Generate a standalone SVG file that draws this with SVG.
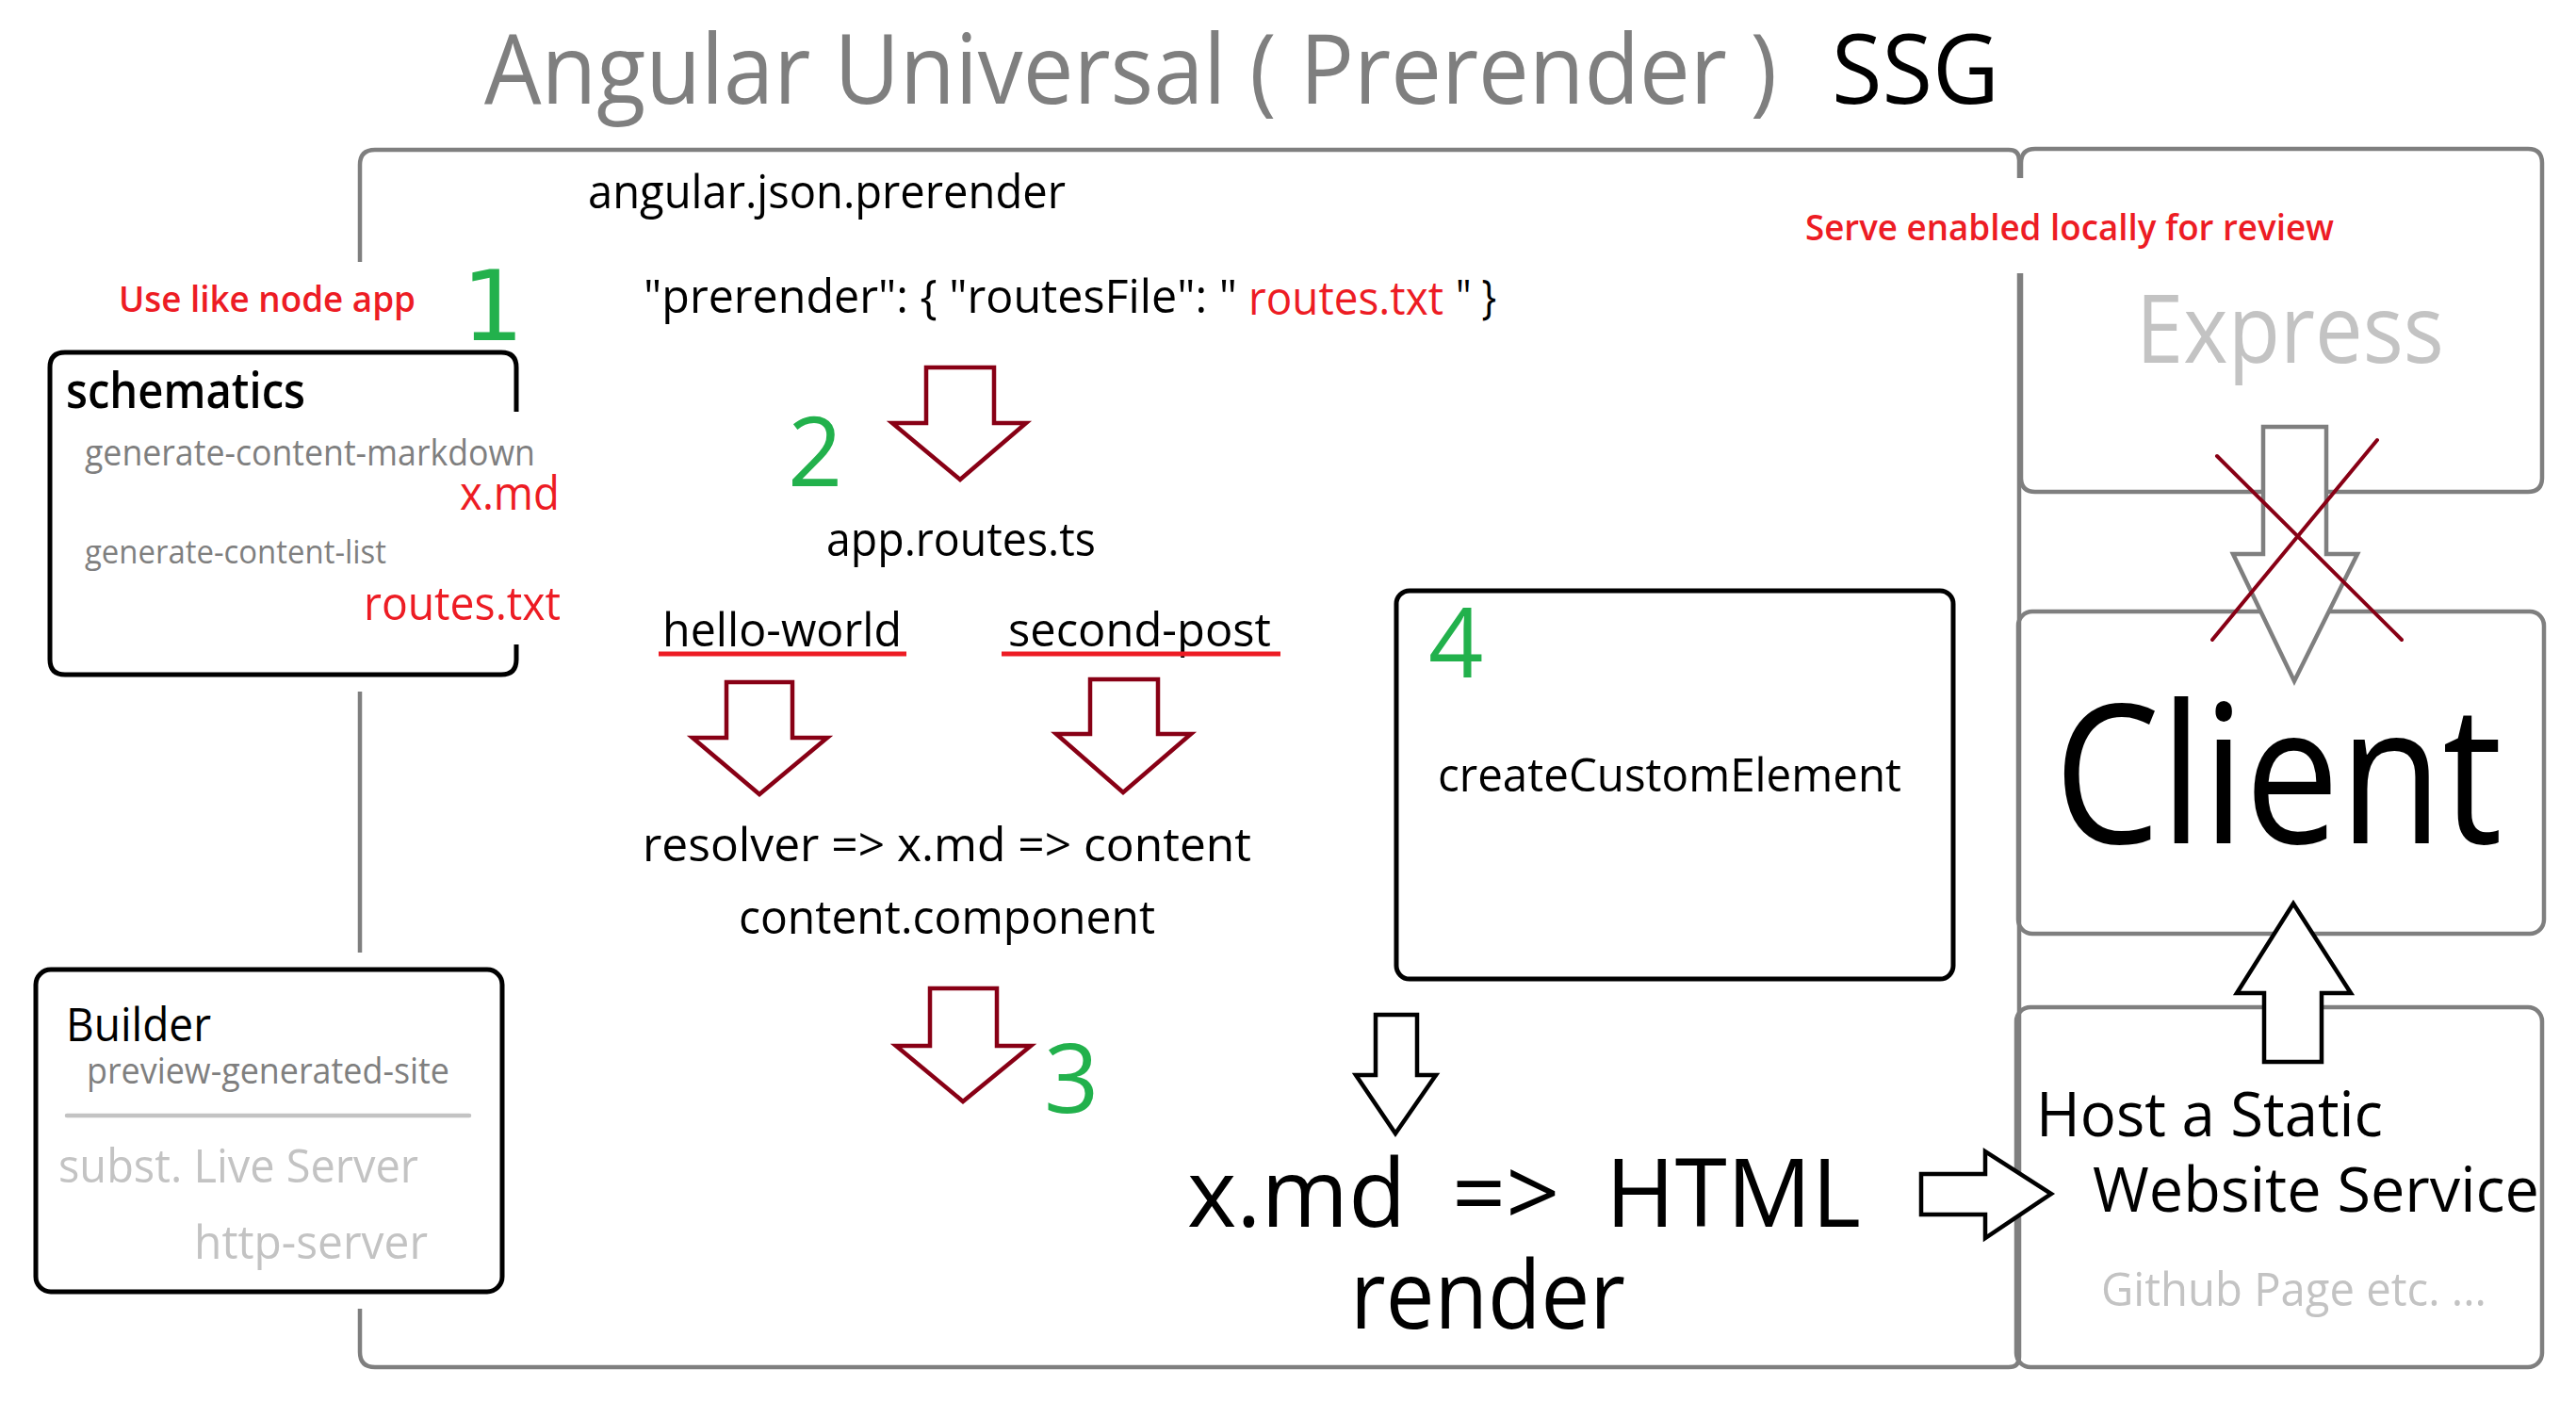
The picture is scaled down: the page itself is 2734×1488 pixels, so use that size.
<svg xmlns="http://www.w3.org/2000/svg" width="2734" height="1488" viewBox="0 0 2734 1488">
<style>
text{font-family:"Open Sans","Noto Sans","Liberation Sans",sans-serif;}
.k{fill:#000;}
.g{fill:#7f7f7f;}
.lg{fill:#c3c3c3;}
.r{fill:#ed1c24;}
.gr{fill:#22b14c;}
.one{font-family:"DejaVu Sans","Open Sans",sans-serif;}
.sb{font-weight:600;}
.frame{fill:none;stroke:#7f7f7f;stroke-width:4.5;}
.bbox{fill:none;stroke:#000;stroke-width:5;}
.rarrow{fill:#fff;stroke:#880015;stroke-width:4.5;stroke-linejoin:miter;}
.karrow{fill:#fff;stroke:#000;stroke-width:4.5;stroke-linejoin:miter;}
.garrow{fill:#fff;stroke:#7f7f7f;stroke-width:4.5;stroke-linejoin:miter;}
.uline{stroke:#ed1c24;stroke-width:5;}
.xline{stroke:#880015;stroke-width:4;stroke-linecap:round;}
</style>
<rect width="2734" height="1488" fill="#fff"/>

<g id="title">
<text class="g" x="514" y="110" font-size="102" textLength="1372" lengthAdjust="spacingAndGlyphs">Angular Universal ( Prerender )</text>
<text class="k" x="1944" y="110" font-size="102" textLength="178" lengthAdjust="spacingAndGlyphs">SSG</text>
</g>

<g id="main-frame">
<path class="frame" d="M382 278 L382 175 Q382 159 398 159 L2132 159 Q2143 159 2143 170 L2143 189 M2143 290 L2143 1440 Q2143 1451 2132 1451 L398 1451 Q382 1451 382 1435 L382 1389 M382 734 L382 1011"/>
</g>

<g id="schematics">
<path class="bbox" d="M548 437 L548 390 Q548 374 532 374 L69 374 Q53 374 53 390 L53 700 Q53 716 69 716 L532 716 Q548 716 548 700 L548 684" stroke-width="5.5"/>
<text class="k sb" x="70" y="433" font-size="53" textLength="254" lengthAdjust="spacingAndGlyphs">schematics</text>
<text class="g" x="90" y="494" font-size="38" textLength="478" lengthAdjust="spacingAndGlyphs">generate-content-markdown</text>
<text class="r" x="488" y="541" font-size="50" textLength="106" lengthAdjust="spacingAndGlyphs">x.md</text>
<text class="g" x="90" y="598" font-size="35" textLength="320" lengthAdjust="spacingAndGlyphs">generate-content-list</text>
<text class="r" x="386" y="658" font-size="50" textLength="209" lengthAdjust="spacingAndGlyphs">routes.txt</text>
</g>

<g id="label-use-like-node">
<text class="r sb" x="126" y="331" font-size="38" textLength="315" lengthAdjust="spacingAndGlyphs">Use like node app</text>
<text class="gr one" x="490" y="361" font-size="104">1</text>
</g>

<g id="builder">
<rect class="bbox" x="38" y="1029" width="495" height="342" rx="16"/>
<text class="k" x="70" y="1105" font-size="50" textLength="154" lengthAdjust="spacingAndGlyphs">Builder</text>
<text class="g" x="92" y="1150" font-size="38" textLength="385" lengthAdjust="spacingAndGlyphs">preview-generated-site</text>
<line x1="71" y1="1184" x2="498" y2="1184" stroke="#c3c3c3" stroke-width="4.5" stroke-linecap="round"/>
<text class="lg" x="62" y="1255" font-size="50" textLength="382" lengthAdjust="spacingAndGlyphs">subst. Live Server</text>
<text class="lg" x="206" y="1336" font-size="50" textLength="248" lengthAdjust="spacingAndGlyphs">http-server</text>
</g>

<g id="prerender-config">
<text class="k" x="624" y="221" font-size="50" textLength="507" lengthAdjust="spacingAndGlyphs">angular.json.prerender</text>
<text class="k" x="683" y="332" font-size="50" textLength="630" lengthAdjust="spacingAndGlyphs">"prerender": { "routesFile": "</text>
<text class="r" x="1325" y="334" font-size="50" textLength="207" lengthAdjust="spacingAndGlyphs">routes.txt</text>
<text class="k" x="1545" y="332" font-size="50" textLength="43" lengthAdjust="spacingAndGlyphs">" }</text>
</g>

<g id="routes">
<text class="gr" x="836" y="516" font-size="102">2</text>
<text class="k" x="877" y="590" font-size="50" textLength="286" lengthAdjust="spacingAndGlyphs">app.routes.ts</text>
<text class="k" x="703" y="686" font-size="50" textLength="254" lengthAdjust="spacingAndGlyphs">hello-world</text>
<text class="k" x="1070" y="686" font-size="50" textLength="279" lengthAdjust="spacingAndGlyphs">second-post</text>
<line class="uline" x1="699" y1="694" x2="962" y2="694"/>
<line class="uline" x1="1063" y1="694" x2="1359" y2="694"/>
</g>

<g id="resolver">
<text class="k" x="682" y="914" font-size="50" textLength="646" lengthAdjust="spacingAndGlyphs">resolver =&gt; x.md =&gt; content</text>
<text class="k" x="784" y="991" font-size="50" textLength="442" lengthAdjust="spacingAndGlyphs">content.component</text>
<text class="gr" x="1108" y="1181" font-size="102">3</text>
</g>

<g id="custom-element">
<rect class="bbox" x="1482" y="627" width="591" height="412" rx="14" stroke-width="4.5"/>
<text class="gr" x="1516" y="719" font-size="102">4</text>
<text class="k" x="1526" y="840" font-size="50" textLength="492" lengthAdjust="spacingAndGlyphs">createCustomElement</text>
</g>

<g id="render">
<text class="k" font-size="100" y="1302"><tspan x="1260">x.md</tspan><tspan x="1541">=&gt;</tspan><tspan x="1704">HTML</tspan></text>
<text class="k" x="1433" y="1410" font-size="100" textLength="292" lengthAdjust="spacingAndGlyphs">render</text>
</g>

<g id="express">
<path class="frame" d="M2145 189 L2145 173 Q2145 158 2160 158 L2683 158 Q2698 158 2698 173 L2698 507 Q2698 522 2683 522 L2160 522 Q2145 522 2145 507 L2145 290"/>
<text class="r sb" x="1916" y="255" font-size="38" textLength="561" lengthAdjust="spacingAndGlyphs">Serve enabled locally for review</text>
<text class="lg" x="2267" y="385" font-size="100" textLength="327" lengthAdjust="spacingAndGlyphs">Express</text>
</g>

<g id="client">
<rect class="frame" x="2142" y="649" width="558" height="342" rx="15"/>
<text class="k" x="2180" y="895" font-size="205" textLength="476" lengthAdjust="spacingAndGlyphs">Client</text>
</g>

<g id="host">
<rect class="frame" x="2140" y="1069" width="558" height="382" rx="15"/>
<text class="k" x="2161" y="1206" font-size="66" textLength="368" lengthAdjust="spacingAndGlyphs">Host a Static</text>
<text class="k" x="2221" y="1286" font-size="66" textLength="474" lengthAdjust="spacingAndGlyphs">Website Service</text>
<text class="lg" x="2230" y="1386" font-size="50" textLength="409" lengthAdjust="spacingAndGlyphs">Github Page etc. ...</text>
</g>

<g id="connectors">
<polygon class="rarrow" points="983,390 1055,390 1055,449 1089,449 1019,509 947,449 983,449"/>
<polygon class="rarrow" points="771,724 841,724 841,783 878,783 806,843 735,783 771,783"/>
<polygon class="rarrow" points="1157,721 1229,721 1229,779 1264,779 1192,841 1121,779 1157,779"/>
<polygon class="rarrow" points="987,1049 1058,1049 1058,1110 1094,1110 1022,1169 951,1110 987,1110"/>
<polygon class="karrow" points="1460,1077 1504,1077 1504,1141 1524,1141 1481,1203 1439,1141 1460,1141"/>
<polygon class="karrow" points="2039,1246 2107,1246 2107,1222 2177,1267 2107,1314 2107,1289 2039,1289"/>
<polygon class="karrow" points="2434,959 2495,1054 2464,1054 2464,1127 2403,1127 2403,1054 2374,1054"/>
<polygon class="garrow" points="2402,453 2469,453 2469,588 2502,588 2435,723 2370,588 2402,588"/>
<line class="xline" x1="2353" y1="484" x2="2549" y2="679"/>
<line class="xline" x1="2523" y1="467" x2="2348" y2="679"/>
</g>
</svg>
